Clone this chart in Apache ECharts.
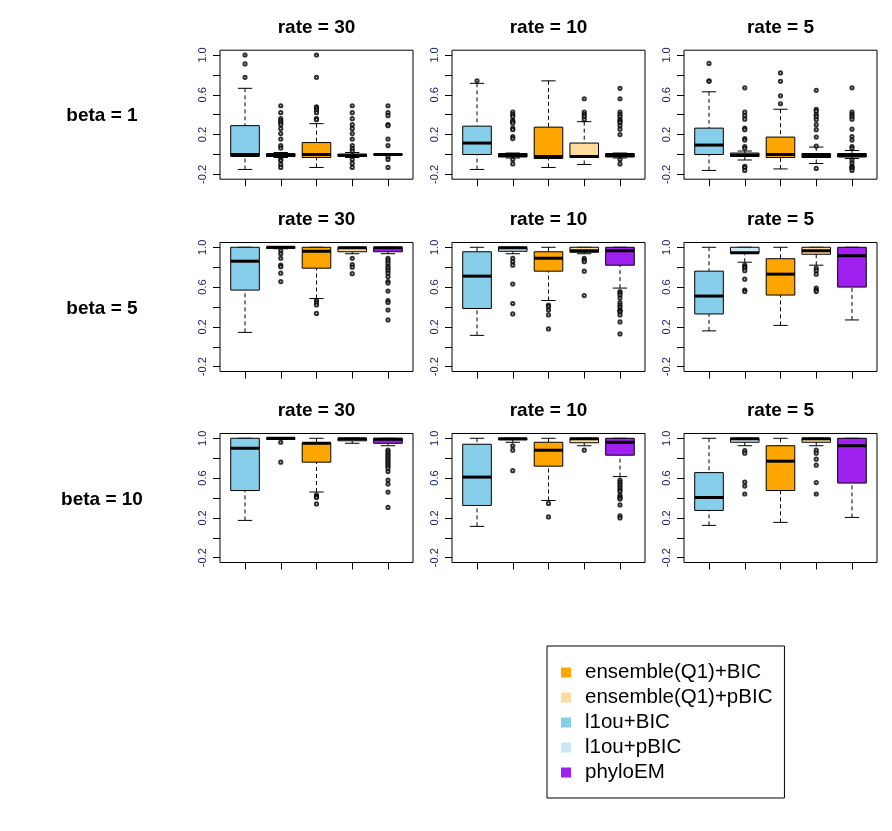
<!DOCTYPE html>
<html>
<head>
<meta charset="utf-8">
<script src="https://cdn.jsdelivr.net/npm/echarts@6/dist/echarts.min.js"></script>
<style>
  html, body { margin: 0; padding: 0; background: #ffffff; }
  #chart { width: 892px; height: 831px; }
</style>
</head>
<body>
<div id="chart"></div>
<script>
// ---------- data ----------
const rowLabels = ["beta = 1", "beta = 5", "beta = 10"];
const colLabels = ["rate = 30", "rate = 10", "rate = 5"];
const methods = ["l1ou+BIC", "l1ou+pBIC", "ensemble(Q1)+BIC", "ensemble(Q1)+pBIC", "phyloEM"];
const legendOrder = ["ensemble(Q1)+BIC", "ensemble(Q1)+pBIC", "l1ou+BIC", "l1ou+pBIC", "phyloEM"];
const methodColors = ["#87ceeb", "#cde6f4", "#ffa500", "#ffdc9e", "#a020f0"];
const yTickValues = [-0.2, 0, 0.2, 0.4, 0.6, 0.8, 1.0];
const yLabelValues = [-0.2, 0.2, 0.6, 1.0];

// box statistics per method: [lower whisker, Q1, median, Q3, upper whisker]
const b1_r30 = [[-0.15,-0.02,0.0,0.29,0.665],[-0.03,-0.02,-0.01,0.01,0.02],[-0.13,-0.03,0.0,0.12,0.31],[-0.03,-0.02,-0.01,0.005,0.02],[-0.01,-0.005,0.0,0.005,0.01]];
const b1_r10 = [[-0.15,0.0,0.115,0.285,0.715],[-0.035,-0.025,-0.01,0.01,0.015],[-0.13,-0.04,-0.02,0.275,0.74],[-0.1,-0.03,-0.02,0.115,0.33],[-0.035,-0.025,-0.01,0.01,0.015]];
const b1_r5  = [[-0.16,0.0,0.095,0.265,0.63],[-0.055,-0.02,-0.005,0.015,0.035],[-0.145,-0.03,0.0,0.175,0.455],[-0.09,-0.03,-0.01,0.01,0.075],[-0.04,-0.025,-0.01,0.01,0.04]];
const b5_r30 = [[0.145,0.57,0.86,1.0,1.0],[0.985,0.99,1.0,1.0,1.0],[0.485,0.79,0.96,1.0,1.0],[0.935,0.955,0.995,1.0,1.0],[0.935,0.955,0.995,1.0,1.0]];
const b5_r10 = [[0.115,0.385,0.71,0.955,1.0],[0.935,0.96,0.995,1.0,1.0],[0.465,0.76,0.89,0.955,1.0],[0.935,0.95,0.965,1.0,1.0],[0.59,0.82,0.965,1.0,1.0]];
const b5_r5  = [[0.16,0.33,0.51,0.76,1.0],[0.85,0.94,0.945,1.0,1.0],[0.215,0.52,0.73,0.885,1.0],[0.82,0.93,0.965,1.0,1.0],[0.27,0.6,0.915,1.0,1.0]];
const b10_r30 = [[0.175,0.475,0.9,1.0,1.0],[0.99,0.99,1.0,1.0,1.0],[0.46,0.76,0.95,0.955,1.0],[0.95,0.975,0.995,1.0,1.0],[0.925,0.95,0.99,1.0,1.0]];
const b10_r10 = [[0.115,0.325,0.61,0.94,1.0],[0.96,0.985,0.995,1.0,1.0],[0.375,0.72,0.88,0.96,1.0],[0.925,0.955,0.995,1.0,1.0],[0.615,0.83,0.96,1.0,1.0]];
const b10_r5  = [[0.125,0.275,0.405,0.655,1.0],[0.925,0.96,0.995,1.0,1.0],[0.155,0.475,0.77,0.925,1.0],[0.925,0.96,0.995,1.0,1.0],[0.205,0.55,0.925,1.0,1.0]];

// outliers per method
const b1_r30_out = [[1.0,0.91,0.775],[0.49,0.42,0.36,0.34,0.32,0.3,0.26,0.21,0.155,0.09,0.065,-0.05,-0.06,-0.1,-0.13],[1.0,0.775,0.48,0.47,0.445,0.42,0.36,0.35],[0.49,0.42,0.36,0.3,0.26,0.21,0.155,0.09,0.06,0.035,-0.05,-0.09,-0.13],[0.49,0.42,0.39,0.3,0.29,0.155,0.09,-0.025,-0.05,-0.13]];
const b1_r10_out = [[0.74],[0.425,0.4,0.38,0.34,0.33,0.315,0.265,0.25,0.18,0.16,-0.05,-0.095],[],[0.56,0.425,0.4,0.38,0.35],[0.665,0.56,0.425,0.4,0.38,0.35,0.335,0.32,0.29,0.255,0.2,-0.05,-0.095]];
const b1_r5_out = [[0.915,0.74,0.735],[0.67,0.425,0.39,0.355,0.265,0.25,0.16,0.145,0.08,0.063,-0.12,-0.13,-0.16],[0.82,0.735,0.59,0.51],[0.645,0.455,0.435,0.4,0.38,0.35,0.3,0.25,0.175,0.085,-0.14],[0.67,0.425,0.4,0.38,0.355,0.255,0.18,0.145,0.08,0.063,-0.055,-0.085,-0.12,-0.13,-0.14,-0.16]];
const b5_r30_out = [[],[0.965,0.935,0.89,0.82,0.805,0.74,0.655],[0.465,0.445,0.42,0.335],[0.89,0.825,0.8,0.735],[0.89,0.865,0.84,0.81,0.79,0.765,0.74,0.705,0.655,0.64,0.56,0.465,0.445,0.37,0.27]];
const b5_r10_out = [[],[0.89,0.855,0.82,0.63,0.435,0.33],[0.42,0.405,0.37,0.32,0.18],[0.89,0.87,0.855,0.76,0.515],[0.555,0.54,0.52,0.49,0.445,0.42,0.4,0.37,0.36,0.35,0.32,0.25,0.13]];
const b5_r5_out = [[],[0.82,0.805,0.79,0.765,0.68,0.57,0.555],[],[0.79,0.765,0.73,0.59,0.57,0.555],[]];
const b10_r30_out = [[],[0.96,0.76],[0.43,0.415,0.405,0.34],[],[0.88,0.86,0.84,0.82,0.8,0.78,0.76,0.74,0.72,0.7,0.665,0.58,0.54,0.46,0.305]];
const b10_r10_out = [[],[0.925,0.88,0.675],[0.345,0.21],[0.88],[0.58,0.56,0.54,0.52,0.5,0.48,0.465,0.43,0.41,0.4,0.39,0.33,0.22,0.2]];
const b10_r5_out = [[],[0.875,0.85,0.56,0.52,0.44],[],[0.88,0.85,0.79,0.73,0.555,0.44],[]];

const panelStats = [[b1_r30, b1_r10, b1_r5], [b5_r30, b5_r10, b5_r5], [b10_r30, b10_r10, b10_r5]];
const panelOut = [[b1_r30_out, b1_r10_out, b1_r5_out], [b5_r30_out, b5_r10_out, b5_r5_out], [b10_r30_out, b10_r10_out, b10_r5_out]];

// ---------- layout ----------
const gridLefts = [220, 452, 684];
const gridTops = [50.2, 242.5, 433.5];
const gridW = 193, gridH = 129;
const FONT = "'Liberation Sans', Arial, sans-serif";

const chart = echarts.init(document.getElementById('chart'), null, { renderer: 'canvas' });

function renderBox(params, api) {
  const x = api.value(0);
  const lo = api.value(1), q1 = api.value(2), med = api.value(3), q3 = api.value(4), hi = api.value(5);
  const hb = 0.4, hs = 0.2;
  const color = api.visual('color');
  const c = (a, b) => api.coord([a, b]);
  const pTL = c(x - hb, q3), pBR = c(x + hb, q1);
  const children = [];
  const dash = { stroke: '#000', lineWidth: 1, lineDash: [4, 3] };
  const solid = { stroke: '#000', lineWidth: 1 };
  const pHi = c(x, hi), pQ3 = c(x, q3), pQ1 = c(x, q1), pLo = c(x, lo);
  if (Math.abs(pHi[1] - pQ3[1]) > 0.5) {
    children.push({ type: 'line', shape: { x1: pHi[0], y1: pHi[1], x2: pQ3[0], y2: pQ3[1] }, style: dash });
  }
  if (Math.abs(pLo[1] - pQ1[1]) > 0.5) {
    children.push({ type: 'line', shape: { x1: pLo[0], y1: pLo[1], x2: pQ1[0], y2: pQ1[1] }, style: dash });
  }
  const sHiL = c(x - hs, hi), sHiR = c(x + hs, hi);
  children.push({ type: 'line', shape: { x1: sHiL[0], y1: sHiL[1], x2: sHiR[0], y2: sHiR[1] }, style: solid });
  const sLoL = c(x - hs, lo), sLoR = c(x + hs, lo);
  children.push({ type: 'line', shape: { x1: sLoL[0], y1: sLoL[1], x2: sLoR[0], y2: sLoR[1] }, style: solid });
  children.push({ type: 'rect', shape: { x: pTL[0], y: pTL[1], width: pBR[0] - pTL[0], height: pBR[1] - pTL[1] },
    style: { fill: color, stroke: '#000', lineWidth: 1 } });
  const mL = c(x - hb, med), mR = c(x + hb, med);
  children.push({ type: 'line', shape: { x1: mL[0], y1: mL[1], x2: mR[0], y2: mR[1] }, style: { stroke: '#000', lineWidth: 3 } });
  return { type: 'group', children };
}

const grids = [], xAxes = [], yAxes = [], series = [], graphics = [];
let gi = 0;
for (let r = 0; r < 3; r++) {
  for (let cI = 0; cI < 3; cI++) {
    grids.push({ left: gridLefts[cI], top: gridTops[r], width: gridW, height: gridH,
      show: true, borderColor: '#000', borderWidth: 1, backgroundColor: 'transparent', containLabel: false });
    xAxes.push({ gridIndex: gi, type: 'value', min: 0.3, max: 5.7, position: 'bottom',
      axisLine: { show: false, onZero: false }, splitLine: { show: false },
      axisTick: { show: true, length: 7, inside: false, customValues: [1, 2, 3, 4, 5], lineStyle: { color: '#000' } },
      axisLabel: { show: false } });
    yAxes.push({ gridIndex: gi, type: 'value', min: -0.248, max: 1.048, position: 'left',
      axisLine: { show: false, onZero: false }, splitLine: { show: false },
      axisTick: { show: true, length: 7, inside: false, customValues: yTickValues, lineStyle: { color: '#000' } },
      axisLabel: { show: true, customValues: yLabelValues, rotate: 90, margin: 12, fontSize: 11,
        fontFamily: FONT, color: '#202070', formatter: v => Number(v).toFixed(1) } });
    const stats = panelStats[r][cI];
    const outs = panelOut[r][cI];
    for (let m = 0; m < 5; m++) {
      series.push({ type: 'custom', name: methods[m], xAxisIndex: gi, yAxisIndex: gi,
        itemStyle: { color: methodColors[m] },
        renderItem: renderBox, encode: { x: 0, y: [1, 2, 3, 4, 5] },
        data: [[m + 1].concat(stats[m])], silent: true, z: 2 });
    }
    const outData = [];
    outs.forEach((arr, m) => arr.forEach(v => outData.push([m + 1, v])));
    series.push({ type: 'scatter', name: 'outliers', xAxisIndex: gi, yAxisIndex: gi,
      symbol: 'emptyCircle', symbolSize: 3.2, silent: true, z: 3,
      itemStyle: { color: '#000', borderColor: '#000', borderWidth: 0.6 },
      data: outData });
    gi++;
  }
}

// panel titles and row labels
for (let r = 0; r < 3; r++) {
  for (let cI = 0; cI < 3; cI++) {
    graphics.push({ type: 'text', x: gridLefts[cI] + gridW / 2, y: gridTops[r] - 22.5,
      style: { text: colLabels[cI], textAlign: 'center', textVerticalAlign: 'middle',
        font: "bold 19px " + FONT, fill: '#000' } });
  }
  graphics.push({ type: 'text', x: 102, y: gridTops[r] + gridH / 2 + 1.5,
    style: { text: rowLabels[r], textAlign: 'center', textVerticalAlign: 'middle',
      font: "bold 19px " + FONT, fill: '#000' } });
}

chart.setOption({
  animation: false,
  backgroundColor: '#ffffff',
  grid: grids,
  xAxis: xAxes,
  yAxis: yAxes,
  series: series,
  graphic: graphics,
  legend: {
    data: legendOrder,
    orient: 'vertical',
    left: 547, top: 646,
    padding: [16, 12, 15, 14],
    borderColor: '#000', borderWidth: 1,
    itemWidth: 10, itemHeight: 10, itemGap: 4,
    icon: 'rect',
    selectedMode: false,
    textStyle: { fontSize: 20.5, lineHeight: 20, fontFamily: FONT, color: '#000', padding: [0, 0, 0, 9] }
  }
});
</script>
</body>
</html>
